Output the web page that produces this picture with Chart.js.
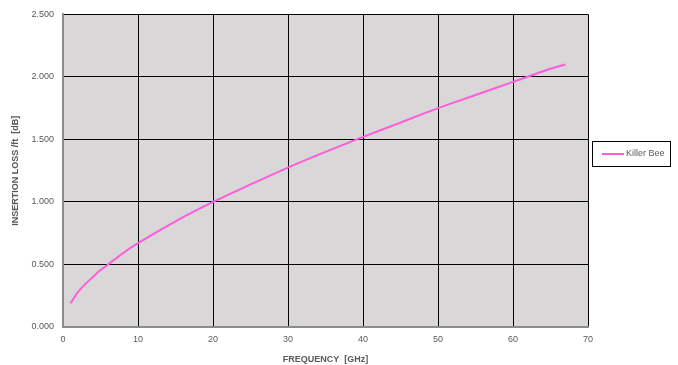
<!DOCTYPE html>
<html>
<head>
<meta charset="utf-8">
<style>
  html, body { margin: 0; padding: 0; background: #fff; }
  #wrap { width: 678px; height: 365px; position: relative; }
</style>
</head>
<body>
<div id="wrap"><canvas id="lossChart"></canvas></div>
<script src="https://cdn.jsdelivr.net/npm/chart.js@4/dist/chart.umd.min.js"></script>
<script>
  // values
  const freqGHz = [1, 2, 3, 4, 5, 6, 8, 10, 15, 20, 25, 30, 35, 40, 45, 50, 55, 60, 65, 67];
  const lossPerFt = [0.19, 0.28, 0.345, 0.40, 0.455, 0.50, 0.59, 0.67, 0.845, 1.00, 1.14, 1.275, 1.40, 1.52, 1.635, 1.75, 1.855, 1.96, 2.065, 2.10];
  const seriesName = 'Killer Bee';

  const textColor = '#595959';
  const fontFamily = "'Liberation Sans', Arial, sans-serif";

  // gray plot background
  const plotBg = {
    id: 'plotBg',
    beforeDraw(chart) {
      const { ctx, chartArea: a } = chart;
      ctx.save();
      ctx.fillStyle = '#D9D7D8';
      ctx.fillRect(a.left, a.top, a.right - a.left, a.bottom - a.top);
      ctx.restore();
    }
  };

  // boxed legend on the right, like the spreadsheet one
  const boxLegend = {
    id: 'boxLegend',
    afterDraw(chart) {
      const ctx = chart.ctx;
      const x = 592, y = 141, w = 78, h = 25;
      ctx.save();
      ctx.fillStyle = '#fff';
      ctx.fillRect(x, y, w, h);
      ctx.strokeStyle = '#000';
      ctx.lineWidth = 1;
      ctx.strokeRect(x + 0.5, y + 0.5, w, h);
      ctx.strokeStyle = chart.data.datasets[0].borderColor;
      ctx.lineWidth = 2;
      ctx.beginPath();
      ctx.moveTo(602, y + 13);
      ctx.lineTo(624, y + 13);
      ctx.stroke();
      ctx.fillStyle = textColor;
      ctx.font = '9px ' + fontFamily;
      ctx.textBaseline = 'middle';
      ctx.fillText(chart.data.datasets[0].label, 626, y + 13);
      ctx.restore();
    }
  };

  new Chart(document.getElementById('lossChart'), {
    type: 'line',
    data: {
      datasets: [{
        label: seriesName,
        data: freqGHz.map((f, i) => ({ x: f, y: lossPerFt[i] })),
        borderColor: '#FF5CDB',
        borderWidth: 2,
        pointRadius: 0,
        fill: false,
        tension: 0.3
      }]
    },
    options: {
      responsive: true,
      maintainAspectRatio: false,
      animation: false,
      layout: { padding: { left: 0, top: 10, right: 90, bottom: 0 } },
      plugins: {
        legend: { display: false },
        tooltip: { enabled: false }
      },
      scales: {
        x: {
          type: 'linear',
          min: 0,
          max: 70,
          ticks: { stepSize: 10, color: textColor, font: { family: fontFamily, size: 9 }, padding: 7 },
          grid: { color: '#000', lineWidth: 1, drawTicks: false },
          border: { color: '#8C8C8C', width: 2 },
          title: {
            display: true,
            text: 'FREQUENCY  [GHz]',
            color: textColor,
            font: { family: fontFamily, size: 9, weight: 'bold' },
            padding: { top: 0, bottom: 0 }
          },
          afterFit(scale) { scale.height = 38; }
        },
        y: {
          min: 0,
          max: 2.5,
          ticks: {
            stepSize: 0.5,
            color: textColor,
            font: { family: fontFamily, size: 9 },
            padding: 9,
            callback: v => v.toFixed(3)
          },
          grid: { color: '#000', lineWidth: 1, drawTicks: false },
          border: { color: '#8C8C8C', width: 2 },
          title: {
            display: true,
            text: 'INSERTION LOSS /ft  [dB]',
            color: textColor,
            font: { family: fontFamily, size: 9, weight: 'bold' },
            padding: { top: 10, bottom: 0 }
          },
          afterFit(scale) { scale.width = 63; }
        }
      }
    },
    plugins: [plotBg, boxLegend]
  });
</script>
</body>
</html>
